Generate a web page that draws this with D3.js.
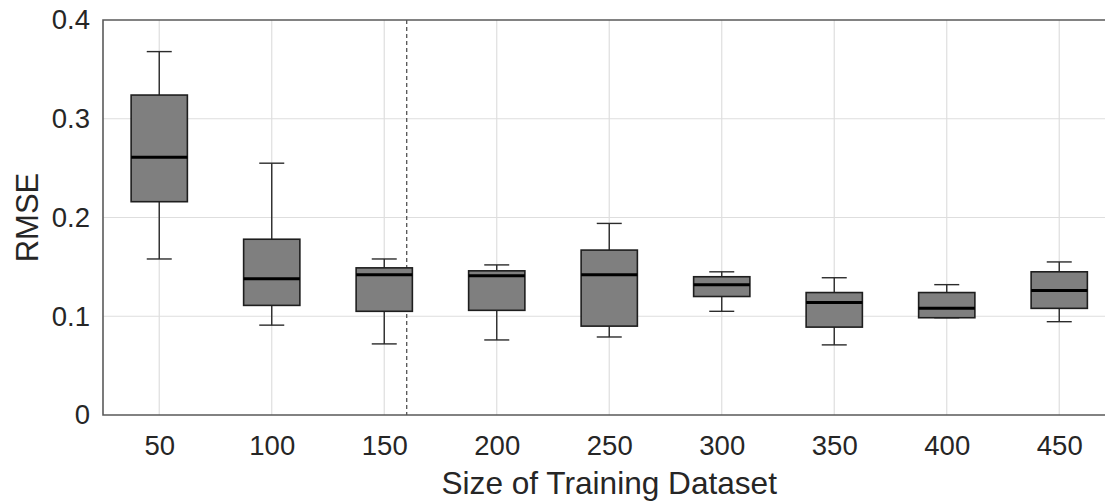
<!DOCTYPE html>
<html>
<head>
<meta charset="utf-8">
<script src="https://cdn.jsdelivr.net/npm/d3@7"></script>
<style>
  html, body { margin: 0; padding: 0; background: #fff; }
  svg { display: block; font-family: "Liberation Sans", Arial, sans-serif; }
</style>
</head>
<body>
<svg id="chart" width="1105" height="502"></svg>
<script>
// Training set sizes and RMSE box statistics for each size
const sizes    = [50, 100, 150, 200, 250, 300, 350, 400, 450];
const whiskLo  = [0.158, 0.091, 0.072, 0.076, 0.079, 0.105, 0.071, 0.0985, 0.0945];
const q1       = [0.216, 0.111, 0.105, 0.106, 0.090, 0.120, 0.089, 0.0985, 0.108];
const medians  = [0.261, 0.138, 0.142, 0.141, 0.142, 0.132, 0.114, 0.108, 0.126];
const q3       = [0.324, 0.178, 0.149, 0.146, 0.167, 0.140, 0.124, 0.124, 0.145];
const whiskHi  = [0.368, 0.255, 0.158, 0.152, 0.194, 0.145, 0.139, 0.132, 0.155];
const yTicks   = [0, 0.1, 0.2, 0.3, 0.4];
const cutoffSize = 160;

const svg = d3.select("#chart");
const plotLeft = 103, plotTop = 20, plotBottom = 415;
const step = 112.5;
const plotRight = plotLeft + step * sizes.length;

const x = d3.scaleLinear().domain([25, 475]).range([plotLeft, plotRight]);
const y = d3.scaleLinear().domain([0, 0.4]).range([plotBottom, plotTop]);

const textColor = "#262626";

// grid
const grid = svg.append("g");
grid.selectAll("line.gx").data(sizes).join("line")
  .attr("x1", d => x(d)).attr("x2", d => x(d))
  .attr("y1", plotTop).attr("y2", plotBottom)
  .attr("stroke", "#dedede").attr("stroke-width", 1.2);
grid.selectAll("line.gy").data(yTicks.slice(1, -1)).join("line")
  .attr("x1", plotLeft).attr("x2", plotRight)
  .attr("y1", d => y(d)).attr("y2", d => y(d))
  .attr("stroke", "#dedede").attr("stroke-width", 1.2);

// vertical dashed marker
svg.append("line")
  .attr("x1", x(cutoffSize)).attr("x2", x(cutoffSize))
  .attr("y1", plotTop).attr("y2", plotBottom)
  .attr("stroke", "#333").attr("stroke-width", 1.1)
  .attr("stroke-dasharray", "4,3");

// boxes
const data = sizes.map((s, i) => ({ s, lo: whiskLo[i], q1: q1[i], med: medians[i], q3: q3[i], hi: whiskHi[i] }));
const boxW = step * 0.5, capW = 25;
const g = svg.append("g").selectAll("g").data(data).join("g");

g.append("line")
  .attr("x1", d => x(d.s)).attr("x2", d => x(d.s))
  .attr("y1", d => y(d.hi)).attr("y2", d => y(d.q3))
  .attr("stroke", "#2b2b2b").attr("stroke-width", 1.4);
g.append("line")
  .attr("x1", d => x(d.s)).attr("x2", d => x(d.s))
  .attr("y1", d => y(d.q1)).attr("y2", d => y(d.lo))
  .attr("stroke", "#2b2b2b").attr("stroke-width", 1.4);
g.append("line")
  .attr("x1", d => x(d.s) - capW / 2).attr("x2", d => x(d.s) + capW / 2)
  .attr("y1", d => y(d.hi)).attr("y2", d => y(d.hi))
  .attr("stroke", "#2b2b2b").attr("stroke-width", 1.4);
g.append("line")
  .attr("x1", d => x(d.s) - capW / 2).attr("x2", d => x(d.s) + capW / 2)
  .attr("y1", d => y(d.lo)).attr("y2", d => y(d.lo))
  .attr("stroke", "#2b2b2b").attr("stroke-width", 1.4);
g.append("rect")
  .attr("x", d => x(d.s) - boxW / 2).attr("width", boxW)
  .attr("y", d => y(d.q3)).attr("height", d => y(d.q1) - y(d.q3))
  .attr("fill", "#7f7f7f").attr("stroke", "#1e1e1e").attr("stroke-width", 1.6);
g.append("line")
  .attr("x1", d => x(d.s) - boxW / 2).attr("x2", d => x(d.s) + boxW / 2)
  .attr("y1", d => y(d.med)).attr("y2", d => y(d.med))
  .attr("stroke", "#000").attr("stroke-width", 3);

// axes
const yAxis = svg.append("g").attr("transform", `translate(${plotLeft},0)`)
  .call(d3.axisLeft(y).tickValues(yTicks).tickFormat(d => d === 0 ? "0" : d3.format(".1f")(d)).tickSize(0).tickPadding(13));
const xAxis = svg.append("g").attr("transform", `translate(0,${plotBottom})`)
  .call(d3.axisBottom(x).tickValues(sizes).tickFormat(d3.format("d")).tickSize(0).tickPadding(20));
[yAxis, xAxis].forEach(a => {
  a.select(".domain").remove();
  a.selectAll("text").attr("fill", textColor).attr("font-size", 27.5).attr("font-family", "Liberation Sans, Arial, sans-serif");
});

// frame: left, bottom, top (right side lies past the canvas edge)
svg.append("path")
  .attr("d", `M${plotRight},${plotTop}H${plotLeft}V${plotBottom}H${plotRight}`)
  .attr("fill", "none").attr("stroke", "#5a5a5a").attr("stroke-width", 1.6);

// axis titles
svg.append("text")
  .attr("x", x(250)).attr("y", 494)
  .attr("text-anchor", "middle").attr("fill", textColor).attr("font-size", 31.6)
  .text("Size of Training Dataset");
svg.append("text")
  .attr("transform", `translate(38,${(plotTop + plotBottom) / 2}) rotate(-90)`)
  .attr("text-anchor", "middle").attr("fill", textColor).attr("font-size", 31)
  .text("RMSE");
</script>
</body>
</html>
